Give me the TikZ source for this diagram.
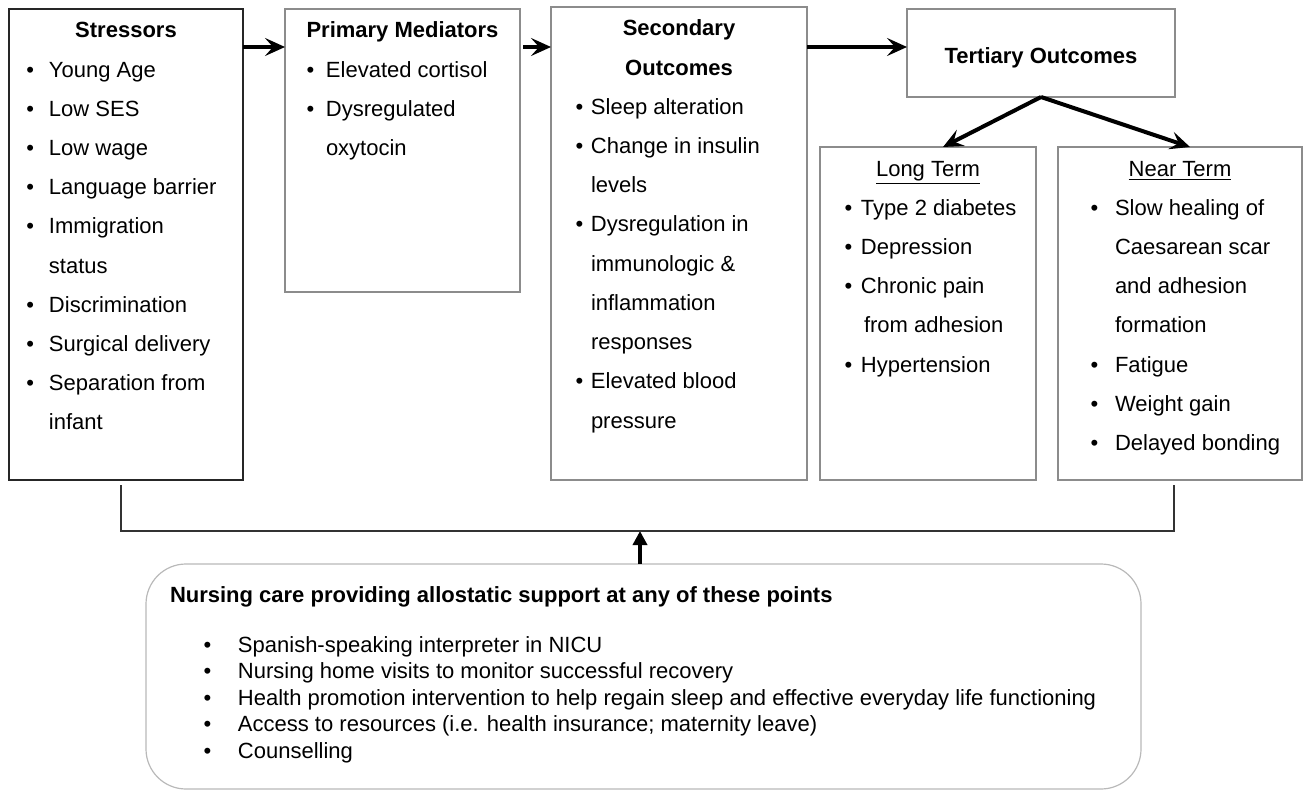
\documentclass[tikz,border=0pt]{standalone}
\usepackage{fontspec}
\setmainfont{Liberation Sans}
\usepackage[dvipsnames]{xcolor}
\usetikzlibrary{positioning,arrows.meta}

\definecolor{boxgray}{gray}{0.55}
\newlength{\bpos}
\newlength{\tpos}
% one bullet item, later lines hang under the text
\newcommand{\itm}[1]{\par\hangindent=\tpos\hangafter=1\noindent\makebox[\tpos][l]{\hspace*{\bpos}\textbullet}#1}
\newcommand{\hd}[1]{{\centering\rule{0pt}{14.5pt}#1\par}}
% box text: width, height, bullet pos, text pos, items
\newcommand{\cont}[5]{\parbox[t][#2][t]{#1}{\fontsize{11}{19.6}\selectfont\setlength{\bpos}{#3}\setlength{\tpos}{#4}\raggedright #5}}

\begin{document}
\begin{tikzpicture}[x=0.5pt,y=-0.5pt,node distance=20pt,
            box/.style={draw=boxgray,line width=1pt,inner sep=0pt,outer sep=0pt,anchor=north west},
            flow/.style={draw,line width=2pt,-{Stealth[length=10pt,width=9pt,inset=4pt]}},
            up/.style={draw,line width=1.7pt,-{Triangle[length=7pt,width=7pt]}},
            bracket/.style={draw,line width=0.75pt,black!80}]
            \useasboundingbox (0,0) rectangle (1305,792);

            \node[box,draw=black!85] (stress) at (9,9) {\cont{117pt}{235.5pt}{8.75pt}{20pt}{%
                \hd{\textbf{Stressors}}
                \itm{Young Age}
                \itm{Low SES}
                \itm{Low wage}
                \itm{Language barrier}
                \itm{Immigration\newline status}
                \itm{Discrimination}
                \itm{Surgical delivery}
                \itm{Separation from\newline infant}}};

            \node[box,right=21pt of stress.north east,anchor=north west] (prim) {\cont{117.5pt}{141.5pt}{10.75pt}{20.5pt}{%
                \hd{\textbf{Primary Mediators}}
                \itm{Elevated cortisol}
                \itm{Dysregulated\newline oxytocin}}};

            \node[box,right=15.5pt of prim.north east,anchor=north west,yshift=1pt] (sec) {\cont{128pt}{236.5pt}{12.25pt}{20pt}{%
                \hd{\textbf{Secondary}\\\textbf{Outcomes}}
                \itm{Sleep alteration}
                \itm{Change in insulin\newline levels}
                \itm{Dysregulation in\newline immunologic \&\newline inflammation\newline responses}
                \itm{Elevated blood\newline pressure}}};

            \node[box,right=50pt of sec.north east,anchor=north west,yshift=-1pt] (tert) {\parbox[t][44pt][t]{134pt}{\fontsize{11}{13}\selectfont\centering\rule{0pt}{27.5pt}\textbf{Tertiary Outcomes}}};

            \node[box,below=25pt of tert.south west,anchor=north west,xshift=-43.5pt] (long) {\cont{108pt}{166.5pt}{12.25pt}{20.5pt}{%
                \hd{\underline{Long Term}}
                \itm{Type 2 diabetes}
                \itm{Depression}
                \itm{Chronic pain\newline\hspace*{1.5pt}from adhesion}
                \itm{Hypertension}}};

            \node[box,right=11pt of long.north east,anchor=north west] (near) {\cont{122pt}{166.5pt}{16.25pt}{28.5pt}{%
                \hd{\underline{Near Term}}
                \itm{Slow healing of\newline Caesarean scar\newline and adhesion\newline formation}
                \itm{Fatigue}
                \itm{Weight gain}
                \itm{Delayed bonding}}};

            \node[box,draw=gray!55,line width=0.6pt,rounded corners=20pt] (care) at (146,564) {\parbox[t][112.5pt][t]{497.5pt}{%
                \fontsize{11}{13.3}\selectfont\setlength{\bpos}{28.75pt}\setlength{\tpos}{46pt}\raggedright
                \hspace*{12pt}\rule{0pt}{19pt}\textbf{Nursing care providing allostatic support at any of these points}\par
                \vspace{11.7pt}
                \itm{Spanish-speaking interpreter in NICU}
                \itm{Nursing home visits to monitor successful recovery}
                \itm{Health promotion intervention to help regain sleep and effective everyday life functioning}
                \itm{Access to resources (i.e. health insurance; maternity leave)}
                \itm{Counselling}}};

            \coordinate (brl) at ([xshift=-2.5pt,yshift=-2.5pt]stress.south);
            \coordinate (brr) at ([xshift=-3pt,yshift=-2.5pt]near.south);
            \coordinate (jn) at ([xshift=-1.75pt,yshift=16.5pt]care.north);

            \path
                ([yshift=-19pt]stress.north east) edge[flow] ([yshift=-19pt]prim.north west)
                ([xshift=1.5pt,yshift=-19pt]prim.north east) edge[flow] ([yshift=-20pt]sec.north west)
                ([yshift=-20pt]sec.north east) edge[flow] ([yshift=-19pt]tert.north west)
                (tert.south) edge[flow] ([xshift=7.5pt]long.north)
                (tert.south) edge[flow] ([xshift=5pt]near.north)
                (care.north -| jn) edge[up] (jn)
                ;
            \draw[bracket] (brl) |- (jn) -| (brr);
        \end{tikzpicture}
\end{document}
